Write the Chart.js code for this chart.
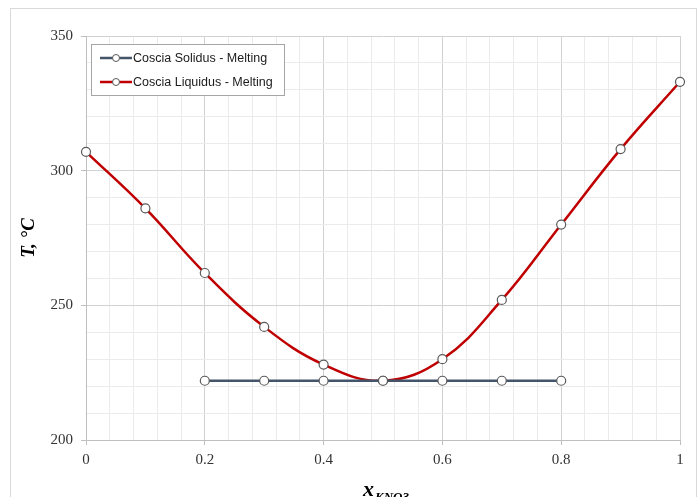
<!DOCTYPE html>
<html>
<head>
<meta charset="utf-8">
<script src="https://cdn.jsdelivr.net/npm/chart.js@4/dist/chart.umd.min.js"></script>
<style>
  html, body { margin: 0; padding: 0; background: #fff; }
  #wrap { position: relative; width: 700px; height: 497px; }
</style>
</head>
<body>
<div id="wrap"><canvas id="phaseChart" width="700" height="497"></canvas></div>
<script>
// composition (mole fraction KNO3) and temperatures
const xLiquidus = [0, 0.1, 0.2, 0.3, 0.4, 0.5, 0.6, 0.7, 0.8, 0.9, 1];
const tLiquidus = [307, 286, 262, 242, 228, 222, 230, 252, 280, 308, 333];
const xSolidus = [0.2, 0.3, 0.4, 0.5, 0.6, 0.7, 0.8];
const tSolidus = [222, 222, 222, 222, 222, 222, 222];
const seriesNames = ['Coscia Solidus - Melting', 'Coscia Liquidus - Melting'];
const seriesColors = ['#44546a', '#c00000'];

const serif = "'Liberation Serif', 'Times New Roman', serif";
const sans = "'Liberation Sans', Arial, sans-serif";

function pairs(xs, ys) {
    return xs.map(function(x, i) { return { x: x, y: ys[i] }; });
}

function isMajorX(v) { return Math.abs(v * 5 - Math.round(v * 5)) < 1e-6; }
function isMajorY(v) { return v % 50 === 0; }

// outer frame of the chart object
const framePlugin = {
    id: 'frame',
    beforeDraw(chart) {
        const c = chart.ctx;
        c.save();
        c.fillStyle = '#fff';
        c.fillRect(0, 0, chart.width, chart.height);
        c.strokeStyle = '#d9d9d9';
        c.lineWidth = 1;
        c.strokeRect(10.5, 8.5, 686, 500);
        c.restore();
    }
};

// boxed legend sitting in the top left of the plot
const legendBoxPlugin = {
    id: 'legendBox',
    afterDraw(chart) {
        const c = chart.ctx;
        const left = 91, top = 44, w = 193, h = 51;
        c.save();
        c.fillStyle = '#fff';
        c.fillRect(left, top, w, h);
        c.strokeStyle = '#a6a6a6';
        c.lineWidth = 1;
        c.strokeRect(left + 0.5, top + 0.5, w, h);
        chart.data.datasets.forEach(function(ds, i) {
            const y = 58 + i * 24;
            c.strokeStyle = ds.borderColor;
            c.lineWidth = 2.5;
            c.beginPath();
            c.moveTo(100, y);
            c.lineTo(132, y);
            c.stroke();
            c.beginPath();
            c.arc(116, y, 3.5, 0, Math.PI * 2);
            c.fillStyle = '#fff';
            c.fill();
            c.strokeStyle = '#595959';
            c.lineWidth = 1;
            c.stroke();
            c.fillStyle = '#1a1a1a';
            c.font = '12.5px ' + sans;
            c.textBaseline = 'middle';
            c.textAlign = 'left';
            c.fillText(ds.label, 133, y + 1);
        });
        c.restore();
    }
};

// x axis title with the KNO3 subscript
const xTitlePlugin = {
    id: 'xTitle',
    afterDraw(chart) {
        const c = chart.ctx;
        c.save();
        c.fillStyle = '#000';
        c.textAlign = 'left';
        c.textBaseline = 'alphabetic';
        c.font = 'bold italic 22px ' + serif;
        c.fillText('x', 363, 496);
        c.font = 'bold italic 13px ' + serif;
        c.fillText('KNO3', 375, 501);
        c.restore();
    }
};

const ctx = document.getElementById('phaseChart').getContext('2d');
const phaseChart = new Chart(ctx, {
    type: 'scatter',
    data: {
        datasets: [{
            label: seriesNames[0],
            data: pairs(xSolidus, tSolidus),
            showLine: true,
            clip: false,
            borderColor: seriesColors[0],
            borderWidth: 2.5,
            pointRadius: 4.5,
            pointBackgroundColor: '#fff',
            pointBorderColor: '#595959',
            pointBorderWidth: 1.2,
            tension: 0
        }, {
            label: seriesNames[1],
            data: pairs(xLiquidus, tLiquidus),
            showLine: true,
            clip: false,
            borderColor: seriesColors[1],
            borderWidth: 2.5,
            pointRadius: 4.5,
            pointBackgroundColor: '#fff',
            pointBorderColor: '#595959',
            pointBorderWidth: 1.2,
            tension: 0.4
        }]
    },
    options: {
        responsive: false,
        animation: false,
        layout: { padding: { left: 18, right: 20, top: 36, bottom: 0 } },
        plugins: {
            legend: { display: false },
            tooltip: { enabled: false }
        },
        scales: {
            x: {
                type: 'linear',
                min: 0,
                max: 1,
                afterFit(scale) { scale.height = 57; },
                ticks: {
                    stepSize: 0.04,
                    autoSkip: false,
                    maxRotation: 0,
                    padding: 6,
                    color: '#333',
                    font: { family: serif, size: 15 },
                    callback: function(v) { return isMajorX(v) ? String(Math.round(v * 10) / 10) : ''; }
                },
                grid: {
                    color: function(c) { return isMajorX(c.tick.value) ? '#d2d2d2' : '#ebebeb'; },
                    tickColor: function(c) { return isMajorX(c.tick.value) ? '#bfbfbf' : 'rgba(0,0,0,0)'; },
                    tickLength: 5
                },
                border: { color: '#bfbfbf' }
            },
            y: {
                min: 200,
                max: 350,
                afterFit(scale) { scale.width = 68; },
                title: {
                    display: true,
                    text: 'T, °C',
                    color: '#000',
                    font: { family: serif, size: 19, style: 'italic', weight: 'bold' },
                    padding: { top: 0, bottom: 0 }
                },
                ticks: {
                    stepSize: 10,
                    autoSkip: false,
                    padding: 8,
                    color: '#333',
                    font: { family: serif, size: 15 },
                    callback: function(v) { return isMajorY(v) ? String(v) : ''; }
                },
                grid: {
                    color: function(c) { return isMajorY(c.tick.value) ? '#d2d2d2' : '#ebebeb'; },
                    tickColor: function(c) { return isMajorY(c.tick.value) ? '#bfbfbf' : 'rgba(0,0,0,0)'; },
                    tickLength: 5
                },
                border: { color: '#bfbfbf' }
            }
        }
    },
    plugins: [framePlugin, legendBoxPlugin, xTitlePlugin]
});
</script>
</body>
</html>
